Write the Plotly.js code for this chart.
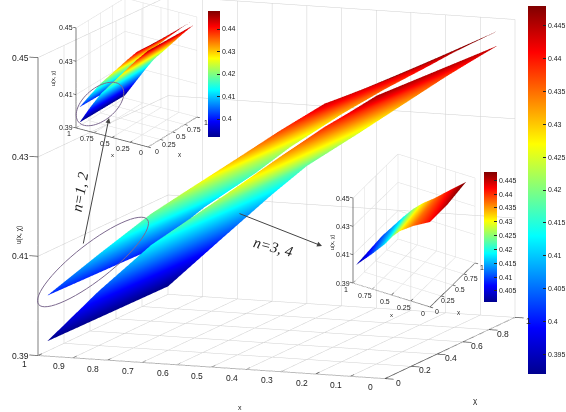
<!DOCTYPE html>
<html><head><meta charset="utf-8">
<script src="https://cdn.plot.ly/plotly-3.0.1.min.js"></script>
<style>html,body{margin:0;padding:0;background:#fff}#g{width:566px;height:412px}</style></head>
<body><div id="g"></div>
<script>
// ---- data ----
const xUpper = [1, .85, .7, .6, .45, .33, .2, .13, .05, 0];
const tauUpper = [.07, .877];
const uUpperNear = [.4012, .4103, .4191, .4241, .4315, .4375, .4436, .4457, .4483, .4499];
const uUpperFar  = [.4006, .4097, .4174, .4231, .4305, .4359, .4413, .4443, .4474, .4493];
const xLower = [1, .85, .7, .6, .45, .33, .2, .13, .05];
const tauLower = [.07, 1];
const uLowerNear = [.3920, .4029, .4128, .4180, .4258, .4322, .4389, .4421, .4459];
const uLowerFar  = [.3916, .4016, .4115, .4177, .4250, .4310, .4375, .4408, .4445];
// inset n=3,4: two edges of the sheet, joined along lines of equal u
const insetU    = [.4015, .41, .418, .425, .431, .437, .442, .446, .448];
const insetXUp  = [.987, .903, .772, .655, .531, .378, .239, .134, .077];
const insetTUp  = [.023, .478, .722, .743, .753, .758, .854, .895, .931];
const insetXLow = [.988, .820, .678, .580, .476, .312, .114, .060, .077];
const insetTLow = [.045, .114, .160, .170, .147, .157, .195, .481, .931];
// ticks
const mainXTicks = [1, .9, .8, .7, .6, .5, .4, .3, .2, .1, 0];
const mainTTicks = [0, .2, .4, .6, .8, 1];
const insetTicks = [0, .25, .5, .75, 1];
const uTicks = [.39, .41, .43, .45];
const mainBarTicks = [.395, .4, .405, .41, .415, .42, .425, .43, .435, .44, .445];
const inset1BarTicks = [.4, .41, .42, .43, .44];
const inset2BarTicks = [.405, .41, .415, .42, .425, .43, .435, .44, .445];
const uLabel = 'u(x, χ)', xLabel = 'x', tauLabel = 'χ';

const jet = [[0,'#00008f'],[.125,'#0000ff'],[.375,'#00ffff'],[.625,'#ffff00'],[.875,'#ff0000'],[1,'#800000']];
const W = 566, H = 412;
const flat = {ambient:1, diffuse:0, specular:0, roughness:1, fresnel:0};

function sheet(scene, x, y, z, cmin, cmax, bar) {
  return {type:'surface', scene, x, y, z, cmin, cmax, colorscale:jet, lighting:flat,
    showscale:!!bar, colorbar:bar||undefined, hoverinfo:'skip', contours:{x:{show:false},y:{show:false},z:{show:false}}};
}
function bar(px, py0, py1, th, vals, size) {
  return {x:px/W, xanchor:'left', y:1-(py0+py1)/2/H, yanchor:'middle', len:py1-py0, lenmode:'pixels',
    thickness:th, thicknessmode:'pixels', xpad:0, ypad:0, tickvals:vals, ticktext:vals.map(String),
    ticks:'inside', ticklen:3, tickcolor:'#222', tickfont:{size, color:'#222', family:'Liberation Sans'},
    outlinewidth:0, borderwidth:0};
}
function lines(scene, segs, color, width, dash) {
  const x=[],y=[],z=[];
  segs.forEach(s=>{x.push(s[0],s[3],null);y.push(s[1],s[4],null);z.push(s[2],s[5],null);});
  return {type:'scatter3d', scene, mode:'lines', x, y, z, hoverinfo:'skip', showlegend:false,
    line:{color, width, dash:dash||'solid'}};
}
function frame(scene, xt, tt, ut, tickX, tickT, gridCol, dash) {
  const u0=ut[0], u1=ut[ut.length-1], g=[], a=[];
  xt.forEach(v=>{g.push([v,0,u0,v,1,u0]); g.push([v,1,u0,v,1,u1]);
    a.push([v,0,u0,v,tickT,u0]);});
  tt.forEach(v=>{g.push([0,v,u0,1,v,u0]); g.push([1,v,u0,1,v,u1]);
    a.push([0,v,u0,-tickX,v,u0]);});
  ut.forEach(v=>{g.push([1,0,v,1,1,v]); g.push([0,1,v,1,1,v]);
    a.push([1,0,v,1+tickX,0,v]);});
  a.push([1,0,u0,0,0,u0],[0,0,u0,0,1,u0],[1,0,u0,1,0,u1]);
  return [lines(scene,g,gridCol,1,dash), lines(scene,a,'#555',1.5)];
}
function sceneLayout(o) {
  const th=o.theta*Math.PI/180, ph=o.phi*Math.PI/180;
  const xs=1.1, ts=1.1, us=.07;
  const dir=[Math.cos(ph)*Math.cos(th),Math.cos(ph)*Math.sin(th),Math.sin(ph)];
  const right=[-Math.sin(th),Math.cos(th),0];
  const up=[-Math.sin(ph)*Math.cos(th),-Math.sin(ph)*Math.sin(th),Math.cos(ph)];
  const vh=o.vp[3]-o.vp[1], K=vh/2;
  const dx=o.cx-(o.vp[0]+o.vp[2])/2, dy=(o.vp[1]+o.vp[3])/2-o.cy;
  const c=[0,1,2].map(i=>-(right[i]*dx+up[i]*dy)/K);
  const r=5;
  const anns=[];
  const lab=(x,y,z,t,off)=>anns.push({x,y,z,text:t,showarrow:false,xanchor:'center',yanchor:'middle',
    xshift:off[0],yshift:-off[1],font:{size:o.fs,color:'#222',family:'Liberation Sans'}});
  o.xt.forEach(v=>lab(v,0,.39,String(v),o.xOff));
  o.tt.forEach(v=>lab(0,v,.39,String(v),o.tOff));
  uTicks.forEach(v=>lab(1,0,v,String(v),o.uOff));
  const hide={visible:false,showgrid:false,zeroline:false,showspikes:false,showbackground:false,showticklabels:false,showline:false};
  return {
    domain:{x:[o.vp[0]/W,o.vp[2]/W],y:[1-o.vp[3]/H,1-o.vp[1]/H]},
    bgcolor:'rgba(0,0,0,0)',
    xaxis:Object.assign({},hide,{range:[1.05,-.05],autorange:false}),
    yaxis:Object.assign({},hide,{range:[-.05,1.05],autorange:false}),
    zaxis:Object.assign({},hide,{range:[.385,.455],autorange:false}),
    aspectmode:'manual',
    aspectratio:{x:o.sx*xs/K,y:o.st*ts/K,z:o.su*us/K},
    camera:{projection:{type:'orthographic'},up:{x:0,y:0,z:1},
      center:{x:c[0],y:c[1],z:c[2]},
      eye:{x:c[0]+dir[0]*r,y:c[1]+dir[1]*r,z:c[2]+dir[2]*r}},
    annotations:anns
  };
}
function ellipsePath(cx,cy,a,b,deg){
  const t=deg*Math.PI/180; let p='';
  for(let i=0;i<=60;i++){const s=i/60*2*Math.PI;
    const px=cx+a*Math.cos(s)*Math.cos(t)+b*Math.sin(s)*Math.sin(t);
    const py=cy-a*Math.cos(s)*Math.sin(t)+b*Math.sin(s)*Math.cos(t);
    p+=(i?'L':'M')+(px/W).toFixed(5)+','+(1-py/H).toFixed(5);}
  return p+'Z';
}
function txt(px,py,t,size,angle,extra){
  return Object.assign({xref:'paper',yref:'paper',x:px/W,y:1-py/H,text:t,showarrow:false,xanchor:'center',yanchor:'middle',
    textangle:angle||0,font:{size,color:'#222',family:'Liberation Sans'}},extra||{});
}
function arrow(x0,y0,x1,y1){
  return {xref:'paper',yref:'paper',axref:'pixel',ayref:'pixel',x:x1/W,y:1-y1/H,ax:x0-x1,ay:y0-y1,text:'',
    showarrow:true,arrowhead:2,arrowsize:1,arrowwidth:1,arrowcolor:'#444'};
}
const serif={font:{size:15,color:'#222',family:'Liberation Serif'}};

const data=[
  sheet('scene',xLower,tauLower,[uLowerNear,uLowerFar],.392,.448,bar(528,6,374,18,mainBarTicks,7)),
  sheet('scene',xUpper,tauUpper,[uUpperNear,uUpperFar],.392,.448),
  ...frame('scene',mainXTicks,mainTTicks,uTicks,.025,.03,'#cfcfcf'),
  sheet('scene2',xLower,tauLower,[uLowerNear,uLowerFar],.392,.448,bar(208,11,137,12,inset1BarTicks,7)),
  sheet('scene2',xUpper,tauUpper,[uUpperNear,uUpperFar],.392,.448),
  ...frame('scene2',insetTicks,insetTicks,uTicks,.04,.05,'#dedede'),
  sheet('scene3',[insetXUp,insetXLow],[insetTUp,insetTLow],[insetU,insetU],.401,.448,bar(484,172,302,13,inset2BarTicks,7)),
  ...frame('scene3',insetTicks,insetTicks,uTicks,.04,.05,'#dedede')
];
const layout={
  width:W,height:H,margin:{l:0,r:0,t:0,b:0,autoexpand:false},paper_bgcolor:'#fff',showlegend:false,
  scene:sceneLayout({theta:-69.4,phi:10.2,sx:370.6,st:369.6,su:302.7/.06,vp:[0,0,566,412],cx:276.5,cy:187.5,
    xt:mainXTicks,tt:mainTTicks,fs:8.5,xOff:[-14,8.5],tOff:[14,4],uOff:[-18,0]}),
  scene2:sceneLayout({theta:-56.7,phi:23.7,sx:86.1,st:89.1,su:109.2/.06,vp:[50,0,210,155],cx:136.5,cy:72.5,
    xt:insetTicks,tt:insetTicks,fs:7,xOff:[-7,6],tOff:[9,5],uOff:[-10,0]}),
  scene3:sceneLayout({theta:-60.6,phi:33.5,sx:88.4,st:91.6,su:101.9/.06,vp:[340,150,490,320],cx:414,cy:230.5,
    xt:insetTicks,tt:insetTicks,fs:7,xOff:[-7,6.5],tOff:[7,5],uOff:[-10,0]}),
  shapes:[
    {type:'path',xref:'paper',yref:'paper',path:ellipsePath(93,262,69,18,38),line:{color:'#7d6a8f',width:1}},
    {type:'path',xref:'paper',yref:'paper',path:ellipsePath(100,104,28,16,40),line:{color:'#7d6a8f',width:1}}
  ],
  annotations:[
    arrow(83,245,109,118),
    arrow(238,213,322,246),
    txt(80,192,'<i>n=1, 2</i>',15,-80,serif),
    txt(273,247,'<i>n=3, 4</i>',15,15,serif),
    txt(19,235,uLabel,6.5,-90), txt(240,407,xLabel,7), txt(475,400,tauLabel,8),
    txt(53,78,uLabel,5.5,-90), txt(112,155,xLabel,6), txt(180,154,tauLabel,6),
    txt(332,242,uLabel,5.5,-90), txt(391,315,xLabel,6), txt(459,312,tauLabel,6)
  ]
};
Plotly.newPlot('g',data,layout,{displayModeBar:false});
</script></body></html>
